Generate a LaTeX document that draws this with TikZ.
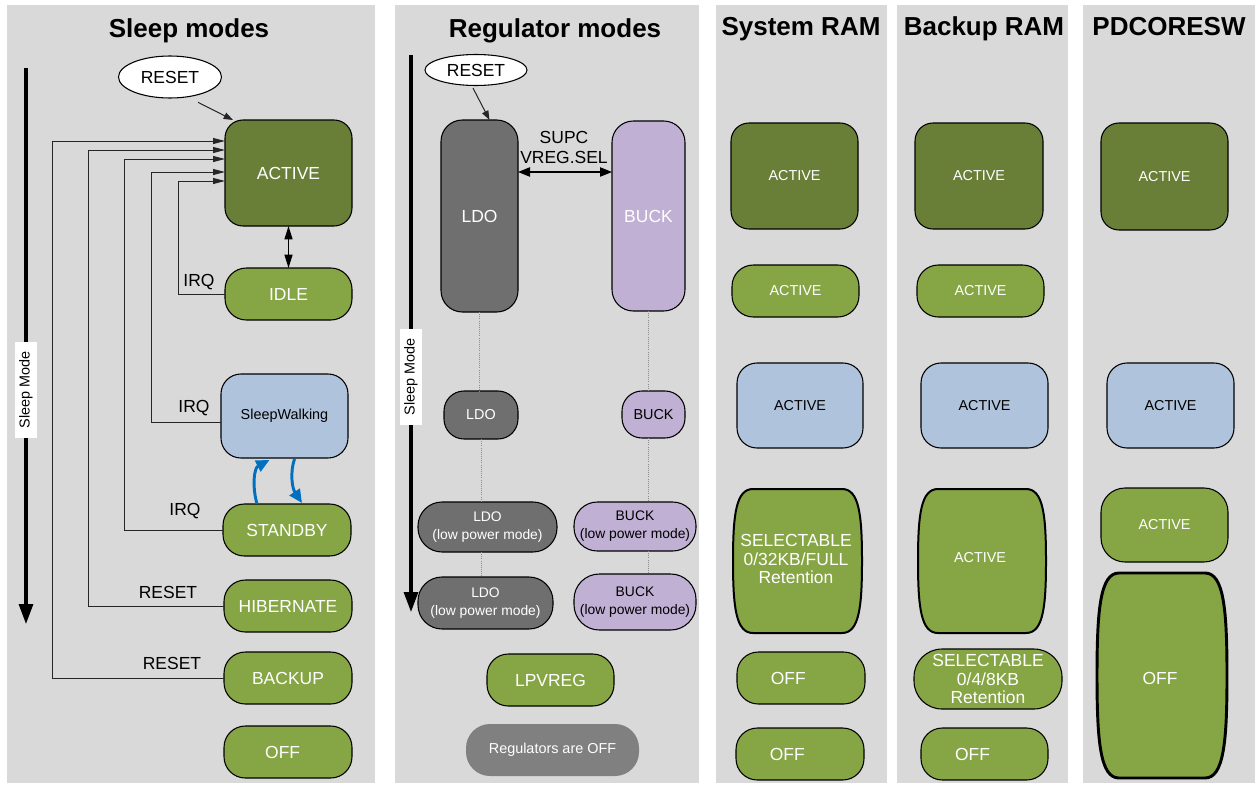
\documentclass[tikz,border=0pt]{standalone}
\usepackage{fontspec}
\setmainfont{Liberation Sans}
\usetikzlibrary{arrows.meta,shapes.geometric,calc}
\definecolor{panel}{HTML}{D9D9D9}
\definecolor{dkgreen}{HTML}{697F38}
\definecolor{ltgreen}{HTML}{86A545}
\definecolor{ltblue}{HTML}{B0C3DC}
\definecolor{ldogray}{HTML}{6F6F6F}
\definecolor{lav}{HTML}{C0B0D4}
\definecolor{offgray}{HTML}{808080}
\definecolor{arrblue}{HTML}{0070C0}
\newcommand\myfbig{\fontsize{13.1}{14}\selectfont}
\newcommand\myfsm{\fontsize{10.8}{13}\selectfont}
\newcommand\myflp{\fontsize{10.4}{13.5}\selectfont}
\newcommand\myfsel{\fontsize{13.1}{14.2}\selectfont}
\newcommand\myftitle{\fontsize{19.5}{22}\selectfont\bfseries}
% barrel shape: x0 y0 x1 y1 radius style
\newcommand\mybarrel[6]{%
\draw[#6] ({#1+#5},#2) -- ({#3-#5},#2)
 .. controls ({#3-0.15*#5},#2) and (#3,{#2+0.35*(#4-#2)/2}) .. (#3,{(#2+#4)/2})
 .. controls (#3,{#4-0.35*(#4-#2)/2}) and ({#3-0.15*#5},#4) .. ({#3-#5},#4)
 -- ({#1+#5},#4)
 .. controls ({#1+0.15*#5},#4) and (#1,{#4-0.35*(#4-#2)/2}) .. (#1,{(#2+#4)/2})
 .. controls (#1,{#2+0.35*(#4-#2)/2}) and ({#1+0.15*#5},#2) .. cycle;}
\begin{document}
\begin{tikzpicture}[x=0.75pt,y=-0.75pt,
  sz/.style 2 args={minimum width=#1*0.75pt, minimum height=#2*0.75pt},
  base/.style={inner sep=0pt, outer sep=0pt, draw=black, line width=0.8pt, align=center},
  dkbox/.style={base, fill=dkgreen, text=white, rounded corners=13.5pt},
  grbox/.style={base, fill=ltgreen, text=white, rounded corners=16pt},
  blbox/.style={base, fill=ltblue, text=black, rounded corners=15pt},
  ldobox/.style={base, fill=ldogray, text=white, rounded corners=16pt},
  lavbox/.style={base, fill=lav, text=black, rounded corners=16pt},
  ell/.style={ellipse, draw=black, line width=0.8pt, fill=white, inner sep=0pt, font=\myfbig},
  lbl/.style={inner sep=0pt, font=\myfbig, text=black},
  title/.style={inner sep=0pt, font=\myftitle, anchor=base},
  smlbl/.style={rotate=90, fill=white, inner sep=0pt, sz={96}{22}, font=\myfsm},
  txt/.style={inner sep=0pt, align=center, text=white},
  fb/.style={draw=black!85, line width=0.75pt, -{Triangle[length=9pt,width=4.5pt]}},
  arr/.style={draw=black!85, line width=0.75pt, -{Triangle[length=7pt,width=5pt]}},
  darr/.style={line width=0.9pt, {Triangle[length=10pt,width=6pt]}-{Triangle[length=10pt,width=6pt]}},
  darrb/.style={line width=0.9pt, {Triangle[length=9pt,width=7pt]}-{Triangle[length=9pt,width=7pt]}},
  bigarr/.style={line width=2.3pt, -{Triangle[length=15pt,width=10.5pt]}},
  blu/.style={draw=arrblue, line width=2.2pt, -{Triangle[length=10pt,width=9pt]}},
  dotl/.style={draw=black!45, line width=0.6pt, densely dotted},
  barrelst/.style={fill=ltgreen, draw=black, line width=1.5pt},
  barrelthick/.style={fill=ltgreen, draw=black, line width=2.2pt}
]
\useasboundingbox (0,0) rectangle (1255,785);
\fill[white] (0,0) rectangle (1255,785);
% panels
\fill[panel] (7,5) rectangle (375,783);
\fill[panel] (395,5) rectangle (699,783);
\fill[panel] (716,5) rectangle (887,783);
\fill[panel] (897,5) rectangle (1068,783);
\fill[panel] (1083,5) rectangle (1255,783);
% titles
\node[title] (t1) at (189,37) {Sleep modes};
\node[title] (t2) at (555,37) {Regulator modes};
\node[title] (t3) at (801,35) {System RAM};
\node[title] (t4) at (984,35) {Backup RAM};
\node[title] (t5) at (1169,35) {PDCORESW};

% ---------- Sleep modes ----------
\coordinate (sma) at (26,68);
\coordinate (smb) at (26,624);
\draw[bigarr] (sma) -- (smb);
\node[smlbl] (sml1) at (26,390) {Sleep Mode};

\node[ell, sz={103}{42}] (rst1) at (170,77) {RESET};
\node[dkbox, sz={127}{106}, font=\myfbig] (act) at (288.5,173) {ACTIVE};
\node[grbox, sz={127}{52}, font=\myfbig] (idle) at (288.5,294) {IDLE};
\node[blbox, sz={127}{84}, font=\myfsm] (sw) at (284.5,416) {SleepWalking};
\node[grbox, sz={128}{52}, font=\myfbig] (stby) at (287,530) {STANDBY};
\node[grbox, sz={128}{52}, font=\myfbig] (hib) at (288,606) {HIBERNATE};
\node[grbox, sz={128}{52}, font=\myfbig] (bkp) at (288,678) {BACKUP};
\node[grbox, sz={128}{52}, font=\myfbig, label={[text=white,font=\myfbig,xshift=-4pt]center:OFF}] (off1) at (288,752) {};

\draw[arr] ($(rst1.-40)+(5,6)$) -- ($(act.north west)+(8,0)$);
\draw[darr] (act.south) -- (idle.north);
\draw[fb] (bkp.west) -| (52,141) -- ($(act.west)+(0,-32)$);
\draw[fb] (hib.west) -| (88,150) -- ($(act.west)+(0,-23)$);
\draw[fb] (stby.west) -| (124,159) -- ($(act.west)+(0,-14)$);
\draw[fb] ($(sw.west)+(0,6)$) -| (151,172) -- ($(act.west)+(0,-1)$);
\draw[fb] (idle.west) -| (178,181) -- ($(act.west)+(0,8)$);

\node[lbl] (irq1) at (199,282) {IRQ};
\node[lbl] (irq2) at (194,408) {IRQ};
\node[lbl] (irq3) at (185,511) {IRQ};
\node[lbl] (rs2) at (168,592) {RESET};
\node[lbl] (rs3) at (172,663) {RESET};

\draw[blu] ($(stby.north)+(-30,0)$) .. controls (252,486) and (254,468) .. ($(sw.south)+(-15,2)$);
\draw[blu] ($(sw.south)+(10,1)$) .. controls (290,472) and (292,488) .. ($(stby.north)+(15,-1)$);

% ---------- Regulator modes ----------
\coordinate (rma) at (411,55);
\coordinate (rmb) at (411,612);
\draw[bigarr] (rma) -- (rmb);
\node[smlbl] (sml2) at (411,377) {Sleep Mode};

\node[ell, sz={102}{31}] (rst2) at (476,70) {RESET};
\node[ldobox, sz={77}{192}, font=\myfbig] (ldo) at (479.5,216) {LDO};
\node[lavbox, sz={73}{190}, font=\myfbig, text=white] (buck) at (648.5,216) {BUCK};
\draw[arr] ($(rst2.south)+(-3,2)$) -- ($(ldo.north)+(10,0)$);
\draw[darrb] ($(ldo.east)+(0,-44)$) -- ($(buck.west)+(0,-44)$);
\node[lbl, align=center, font=\fontsize{13.1}{15}\selectfont] (supc) at (564,147) {SUPC\\VREG.SEL};

\node[ldobox, sz={74}{48}, font=\myfsm, rounded corners=15pt] (ldos) at (481,415) {LDO};
\node[lavbox, sz={63}{47}, font=\myfsm, rounded corners=15pt] (bucks) at (653.5,414.5) {BUCK};
\node[ldobox, sz={139}{50}, font=\myflp, rounded corners=18pt] (ldolp1) at (487.5,527) {LDO\\(low power mode)};
\node[ldobox, sz={135}{52}, font=\myflp, rounded corners=18pt] (ldolp2) at (485.5,603) {LDO\\(low power mode)};
\node[lavbox, sz={122}{49}, font=\myflp, rounded corners=17.5pt] (bucklp1) at (635,526.5) {BUCK\\(low power mode)};
\node[lavbox, sz={122}{56}, font=\myflp, rounded corners=19pt] (bucklp2) at (635,602) {BUCK\\(low power mode)};
\node[grbox, sz={127}{52}, font=\myfbig] (lpv) at (550.5,680) {LPVREG};
\node[base, draw=none, fill=offgray, text=white, rounded corners=18pt, sz={173}{52}, font=\myfsm] (roff) at (552.5,750) {Regulators are OFF};

\draw[dotl] (ldo.south) -- (ldo.south |- ldos.north);
\draw[dotl] (ldos.south) -- (ldos.south |- ldolp1.north);
\draw[dotl] (ldos.south |- ldolp1.south) -- (ldos.south |- ldolp2.north);
\draw[dotl] (buck.south) -- (buck.south |- bucks.north);
\draw[dotl] (buck.south |- bucks.south) -- (buck.south |- bucklp1.north);
\draw[dotl] (buck.south |- bucklp1.south) -- (buck.south |- bucklp2.north);

% ---------- System RAM ----------
\node[dkbox, sz={127}{106}, font=\myfsm] (s1) at (794.5,176) {ACTIVE};
\node[grbox, sz={127}{52}, font=\myfsm] (s2) at (795.5,291) {ACTIVE};
\node[blbox, sz={126}{85}, font=\myfsm] (s3) at (800,405.5) {ACTIVE};
\mybarrel{733}{489}{862}{633}{20}{barrelst}
\node[txt, font=\myfsel] (s4) at (796,559) {SELECTABLE\\0/32KB/FULL\\Retention};
\node[grbox, sz={128}{52}, label={[text=white,font=\myfbig,xshift=-9.5pt]center:OFF}] (s5) at (801,678) {};
\node[grbox, sz={128}{52}, label={[text=white,font=\myfbig,xshift=-9.5pt]center:OFF}] (s6) at (800,754) {};

% ---------- Backup RAM ----------
\node[dkbox, sz={128}{106}, font=\myfsm] (b1) at (979,176) {ACTIVE};
\node[grbox, sz={127}{52}, font=\myfsm] (b2) at (980.5,291) {ACTIVE};
\node[blbox, sz={127}{85}, font=\myfsm] (b3) at (984.5,405.5) {ACTIVE};
\mybarrel{918}{489}{1046}{633}{20}{barrelst}
\node[txt, font=\myfsm] (b4) at (980,558) {ACTIVE};
\node[grbox, sz={148}{60}, rounded corners=21pt, font=\myfsel] (b5) at (988,679) {SELECTABLE\\0/4/8KB\\Retention};
\node[grbox, sz={127}{52}, label={[text=white,font=\myfbig,xshift=-9pt]center:OFF}] (b6) at (984.5,754) {};

% ---------- PDCORESW ----------
\node[dkbox, sz={127}{107}, font=\myfsm] (p1) at (1164.5,176.5) {ACTIVE};
\node[blbox, sz={127}{85}, font=\myfsm] (p2) at (1170.5,405.5) {ACTIVE};
\node[grbox, sz={127}{74}, rounded corners=18pt, font=\myfsm] (p3) at (1164.5,525) {ACTIVE};
\mybarrel{1097}{573}{1227}{778}{22}{barrelthick}
\node[txt, font=\myfbig] (p4) at (1160,678) {OFF};
\end{tikzpicture}
\end{document}
